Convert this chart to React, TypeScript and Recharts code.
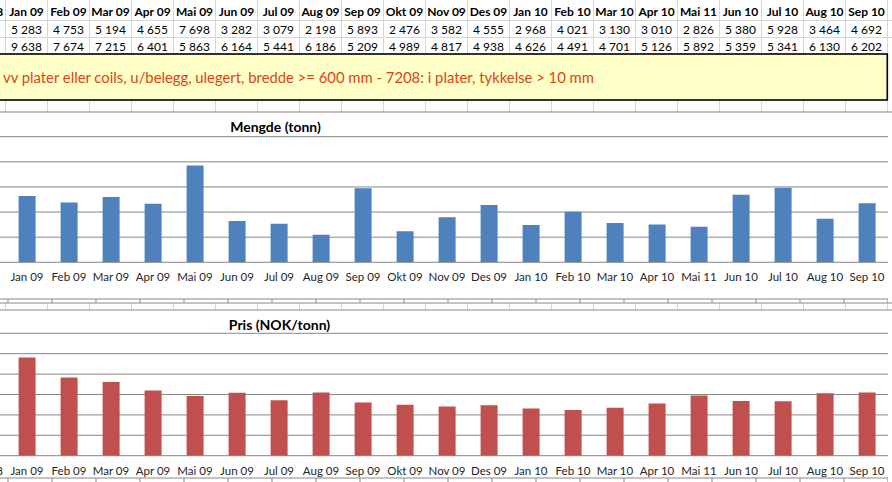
import React from "react";
import { BarChart, Bar, XAxis, YAxis, CartesianGrid } from "recharts";

// ---------- data ----------
const months = [
  "Jan 09", "Feb 09", "Mar 09", "Apr 09", "Mai 09", "Jun 09", "Jul 09", "Aug 09",
  "Sep 09", "Okt 09", "Nov 09", "Des 09", "Jan 10", "Feb 10", "Mar 10", "Apr 10",
  "Mai 11", "Jun 10", "Jul 10", "Aug 10", "Sep 10",
];
const leadMonth = "Des 08";
const mengde = [
  5283, 4753, 5194, 4655, 7698, 3282, 3079, 2198, 5893, 2476, 3582, 4555,
  2968, 4021, 3130, 3010, 2826, 5380, 5928, 3464, 4692,
];
const pris = [
  9638, 7674, 7215, 6401, 5863, 6164, 5441, 6186, 5209, 4989, 4817, 4938,
  4626, 4491, 4701, 5126, 5892, 5359, 5341, 6130, 6202,
];
const mengdeTicks = [0, 2000, 4000, 6000, 8000, 10000];
const prisTicks = [0, 2000, 4000, 6000, 8000, 10000, 12000];
const noteText =
  "vv plater eller coils, u/belegg, ulegert, bredde >= 600 mm - 7208: i plater, tykkelse > 10 mm";
const mengdeTitle = "Mengde (tonn)";
const prisTitle = "Pris (NOK/tonn)";

// ---------- derived tables ----------
const allCats = [leadMonth, ...months];
const mengdeData = allCats.map((m, i) => ({ month: m, value: i === 0 ? null : mengde[i - 1] }));
const prisData = allCats.map((m, i) => ({ month: m, value: i === 0 ? null : pris[i - 1] }));
const edgeTicks = allCats.map((_, i) => i).concat(allCats.length);

// ---------- layout ----------
const W = 892;
const H = 482;
const COL0 = 5.5;
const COLW = 42;
const FONT = "Lato, 'Noto Sans', sans-serif";
const GRID = "#878787";
const SHEET = "#d6d6d6";
const TEXT = "#262626";

const fmt = (n: number) => String(n).replace(/\B(?=(\d{3})+(?!\d))/g, "\u00a0");

const chartLeft = COL0 - COLW;
const chartWidth = COLW * allCats.length;

function SheetLines({ y1, y2 }: { y1: number; y2: number }) {
  const xs: number[] = [];
  for (let i = -1; i <= months.length; i++) xs.push(COL0 + COLW * i);
  return (
    <g>
      {xs.map((x, i) => (
        <line key={i} x1={x} x2={x} y1={y1} y2={y2} stroke={SHEET} strokeWidth={1} />
      ))}
    </g>
  );
}

function MonthChart({
  data,
  ticks,
  color,
  top,
  height,
  marginTop,
  tickAxisH,
  labelAxisH,
  labelMargin,
  hideLead,
}: {
  data: { month: string; value: number | null }[];
  ticks: number[];
  color: string;
  top: number;
  height: number;
  marginTop: number;
  tickAxisH: number;
  labelAxisH: number;
  labelMargin: number;
  hideLead: boolean;
}) {
  return (
    <div
      style={{
        position: "absolute",
        left: chartLeft,
        top,
        width: chartWidth,
        height,
        background: "#fff",
      }}
    >
      <BarChart
        width={chartWidth}
        height={height}
        data={data}
        margin={{ top: marginTop, right: 0, bottom: 0, left: 0 }}
        barCategoryGap="30%"
      >
        <CartesianGrid xAxisId="cat" horizontal vertical={false} stroke={GRID} strokeWidth={1} />
        <XAxis
          xAxisId="edges"
          type="number"
          domain={[0, allCats.length]}
          allowDataOverflow
          ticks={edgeTicks}
          interval={0}
          tickFormatter={() => ""}
          tickSize={4}
          tickLine={{ stroke: GRID }}
          axisLine={{ stroke: GRID }}
          height={tickAxisH}
        />
        <XAxis
          xAxisId="cat"
          dataKey="month"
          interval={0}
          axisLine={false}
          tickLine={false}
          tickSize={0}
          tickMargin={labelMargin}
          height={labelAxisH}
          tickFormatter={(v: string, i: number) => (hideLead && i === 0 ? "" : v)}
          tick={{ fontSize: 11.5, fill: TEXT, fontFamily: FONT }}
        />
        <YAxis
          hide
          domain={[0, ticks[ticks.length - 1]]}
          ticks={ticks}
          interval={0}
          allowDataOverflow
        />
        <Bar xAxisId="cat" dataKey="value" fill={color} isAnimationActive={false} />
      </BarChart>
    </div>
  );
}

export default function App() {
  return (
    <div
      style={{
        position: "absolute",
        left: 0,
        top: 0,
        width: W,
        height: H,
        overflow: "hidden",
        background: "#fff",
        fontFamily: FONT,
      }}
    >
      {/* spreadsheet layer */}
      <svg width={W} height={H} style={{ position: "absolute", left: 0, top: 0 }}>
        <SheetLines y1={0} y2={54} />
        <line x1={0} x2={W} y1={20.5} y2={20.5} stroke={SHEET} />
        <line x1={0} x2={W} y1={37.5} y2={37.5} stroke={SHEET} />
        {allCats.map((m, i) => (
          <text
            key={"h" + i}
            x={COL0 + COLW * (i - 1) + COLW / 2}
            y={11.5}
            textAnchor="middle"
            dominantBaseline="central"
            fontFamily={FONT}
            fontWeight="bold"
            fontSize={12}
            fill="#000"
          >
            {m}
          </text>
        ))}
        {mengde.map((v, i) => (
          <text
            key={"r1" + i}
            x={COL0 + COLW * i + COLW / 2}
            y={29.5}
            textAnchor="middle"
            dominantBaseline="central"
            fontFamily={FONT}
            fontSize={12}
            fill="#000"
          >
            {fmt(v)}
          </text>
        ))}
        {pris.map((v, i) => (
          <text
            key={"r2" + i}
            x={COL0 + COLW * i + COLW / 2}
            y={46.5}
            textAnchor="middle"
            dominantBaseline="central"
            fontFamily={FONT}
            fontSize={12}
            fill="#000"
          >
            {fmt(v)}
          </text>
        ))}
        {/* yellow note box */}
        <rect x={-2} y={54} width={889.3} height={46} fill="#ffffc8" stroke="#000" strokeWidth={1.6} />
        <text
          x={3}
          y={77}
          dominantBaseline="central"
          fontFamily={FONT}
          fontSize={14.5}
          fill="#dd4414"
          textLength={591}
          lengthAdjust="spacingAndGlyphs"
        >
          {noteText}
        </text>
        <SheetLines y1={101} y2={112} />
        <SheetLines y1={303} y2={310} />
      </svg>

      <MonthChart
        data={mengdeData}
        ticks={mengdeTicks}
        color="#4f81bd"
        top={112}
        height={191}
        marginTop={24.7}
        tickAxisH={4}
        labelAxisH={36.7}
        labelMargin={10.5}
        hideLead
      />
      <MonthChart
        data={prisData}
        ticks={prisTicks}
        color="#c0504d"
        top={310}
        height={172}
        marginTop={23.3}
        tickAxisH={4}
        labelAxisH={22.3}
        labelMargin={11.5}
        hideLead={false}
      />

      {/* overlay: chart borders and titles */}
      <svg
        width={W}
        height={H}
        style={{ position: "absolute", left: 0, top: 0, pointerEvents: "none" }}
      >
        <line x1={0} x2={W} y1={112} y2={112} stroke={GRID} />
        <line x1={0} x2={W} y1={303} y2={303} stroke={GRID} />
        <line x1={0} x2={W} y1={310} y2={310} stroke={GRID} />
        <text
          x={275.5}
          y={126.5}
          textAnchor="middle"
          dominantBaseline="central"
          fontFamily={FONT}
          fontWeight="bold"
          fontSize={14}
          fill="#000"
        >
          {mengdeTitle}
        </text>
        <text
          x={279.5}
          y={324.3}
          textAnchor="middle"
          dominantBaseline="central"
          fontFamily={FONT}
          fontWeight="bold"
          fontSize={14}
          fill="#000"
        >
          {prisTitle}
        </text>
      </svg>
    </div>
  );
}
